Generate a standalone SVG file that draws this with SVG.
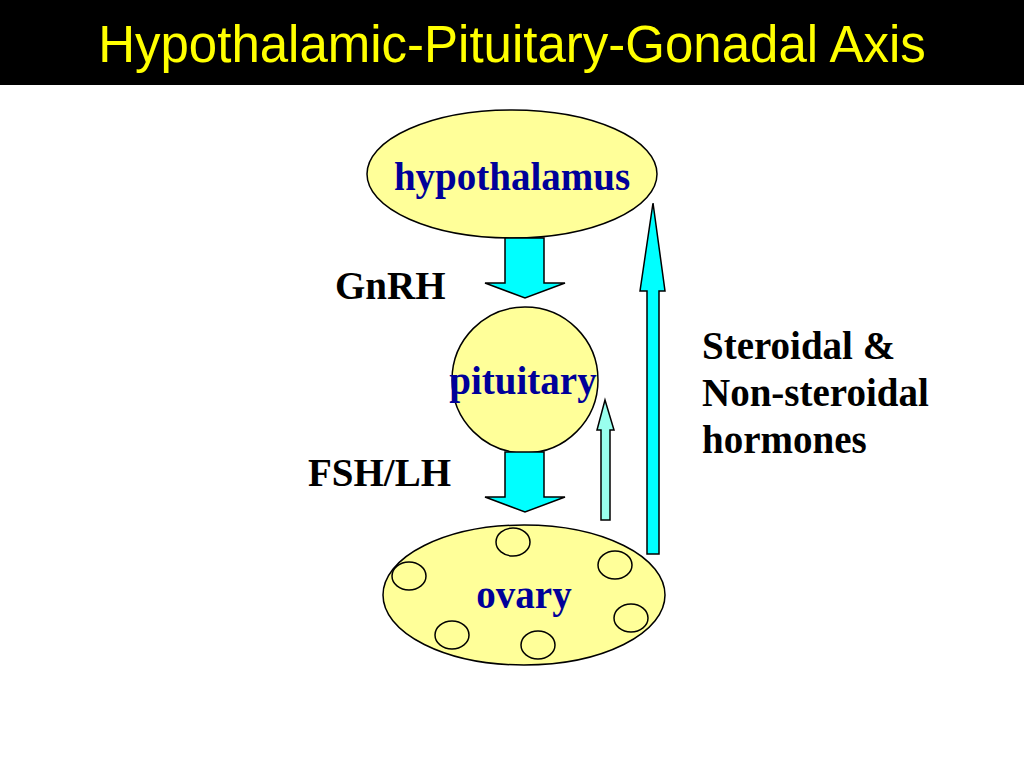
<svg xmlns="http://www.w3.org/2000/svg" width="1024" height="768" viewBox="0 0 1024 768">
<style>
.node{fill:#ffff99;stroke:#000;stroke-width:1.5}
.lbl{font-family:"Liberation Serif",serif;font-weight:bold;font-size:39px;fill:#000099;text-anchor:middle}
.t{font-family:"Liberation Serif",serif;font-weight:bold;font-size:39px;fill:#000}
.arr{fill:#00ffff;stroke:#000;stroke-width:1.5}
</style>
<rect width="1024" height="768" fill="#fff"/>
<rect width="1024" height="85" fill="#000"/>
<text x="512" y="62" text-anchor="middle" font-family="Liberation Sans,Arial,sans-serif" font-size="51" fill="#ffff00">Hypothalamic-Pituitary-Gonadal Axis</text>
<g id="hypothalamus"><ellipse class="node" cx="512" cy="174" rx="145" ry="64"/><text class="lbl" x="512" y="190">hypothalamus</text></g>
<g id="pituitary"><circle class="node" cx="525" cy="380" r="73"/><text class="lbl" x="523" y="394">pituitary</text></g>
<g id="ovary"><ellipse class="node" cx="524" cy="595" rx="141" ry="70"/>
<g fill="none" stroke="#000" stroke-width="1.5"><ellipse cx="513" cy="542" rx="17" ry="14"/><ellipse cx="615" cy="565" rx="17" ry="14"/><ellipse cx="409" cy="576" rx="17" ry="14"/><ellipse cx="631" cy="618" rx="17" ry="14"/><ellipse cx="452" cy="635" rx="17" ry="14"/><ellipse cx="538" cy="645" rx="17" ry="14"/></g>
<text class="lbl" x="524" y="608">ovary</text></g>
<g id="connectors">
<polygon class="arr" points="505,238 544,238 544,283 565,283 525,298 485,283 505,283"/>
<polygon class="arr" points="505,452 544,452 544,497 565,497 525,512 485,497 505,497"/>
<polygon points="601,520 610,520 610,430 614,430 605,400 597,430 601,430" fill="#99ffee" stroke="#000" stroke-width="1.5"/>
<polygon class="arr" points="647,554 659,554 659,291 665,291 653,203 640,291 647,291"/>
</g>
<text class="t" x="335" y="299">GnRH</text>
<text class="t" x="308" y="486">FSH/LH</text>
<text class="t" x="702" y="359">Steroidal &amp;</text>
<text class="t" x="702" y="406">Non-steroidal</text>
<text class="t" x="702" y="453">hormones</text>
</svg>
